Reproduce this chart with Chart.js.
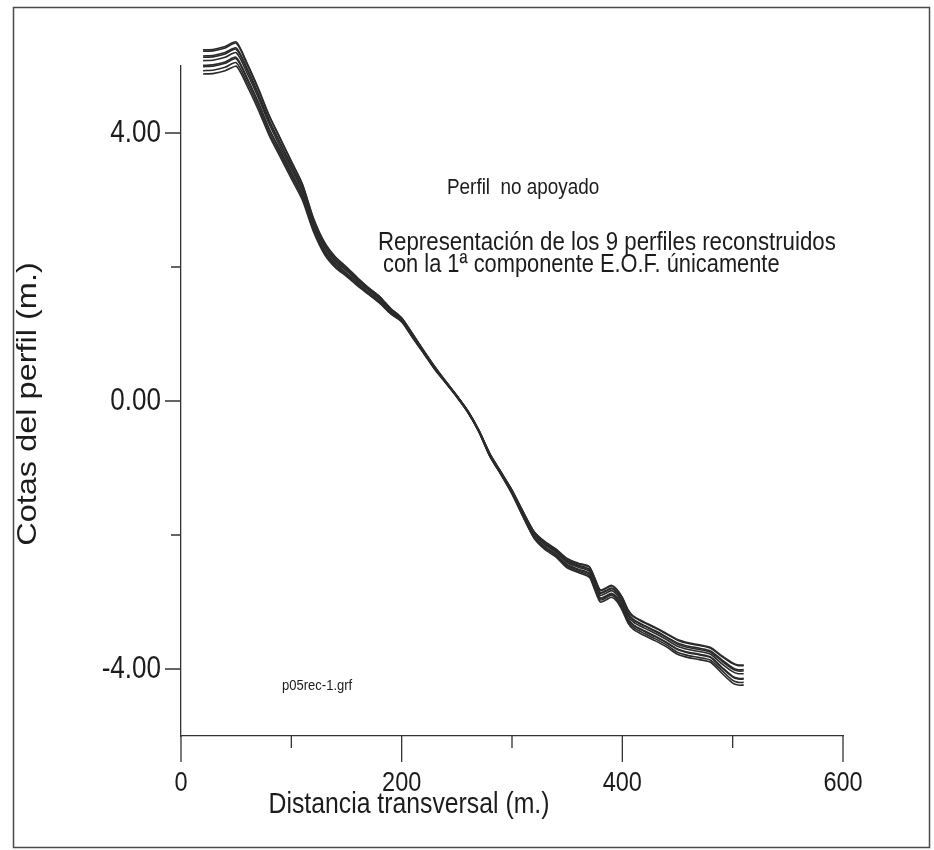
<!DOCTYPE html>
<html>
<head>
<meta charset="utf-8">
<title>Perfil no apoyado</title>
<script src="https://cdn.jsdelivr.net/npm/chart.js@4.4.1/dist/chart.umd.min.js"></script>
<style>
  html, body { margin: 0; padding: 0; background: #fff; }
  canvas { display: block; }
</style>
</head>
<body>
<canvas id="perfilChart" width="934" height="850"></canvas>
<script>
// Distancia transversal (m.) comun a los 9 perfiles
const distancias = [20,30,40,50,60,70,80,90,100,110,120,130,140,150,160,170,180,190,200,210,220,230,240,250,260,270,280,290,300,310,320,330,340,350,360,370,375,380,385,390,395,400,405,410,420,430,440,450,460,470,480,490,500,505,510];

// Cotas (m.) de los perfiles reconstruidos
const perfil1 = [5.24,5.25,5.29,5.36,5.04,4.67,4.26,3.92,3.58,3.24,2.73,2.37,2.15,2.00,1.84,1.69,1.56,1.38,1.24,1.00,0.75,0.51,0.29,0.08,-0.15,-0.44,-0.79,-1.06,-1.33,-1.65,-1.95,-2.10,-2.21,-2.35,-2.42,-2.47,-2.64,-2.82,-2.79,-2.75,-2.81,-2.93,-3.11,-3.21,-3.30,-3.38,-3.47,-3.56,-3.61,-3.64,-3.68,-3.80,-3.91,-3.94,-3.94];
const perfil2 = [5.22,5.23,5.27,5.34,5.02,4.65,4.25,3.91,3.57,3.23,2.72,2.36,2.14,1.99,1.83,1.69,1.56,1.38,1.24,1.00,0.75,0.51,0.29,0.08,-0.15,-0.44,-0.79,-1.06,-1.33,-1.65,-1.95,-2.11,-2.22,-2.36,-2.43,-2.48,-2.65,-2.83,-2.80,-2.76,-2.82,-2.94,-3.12,-3.22,-3.31,-3.39,-3.48,-3.57,-3.62,-3.65,-3.69,-3.81,-3.92,-3.95,-3.95];
const perfil3 = [5.15,5.16,5.20,5.27,4.96,4.59,4.19,3.85,3.52,3.18,2.68,2.33,2.11,1.97,1.81,1.67,1.54,1.36,1.23,0.99,0.74,0.50,0.29,0.08,-0.15,-0.44,-0.80,-1.07,-1.34,-1.67,-1.97,-2.13,-2.24,-2.38,-2.45,-2.51,-2.68,-2.86,-2.83,-2.79,-2.85,-2.98,-3.16,-3.26,-3.35,-3.43,-3.52,-3.61,-3.66,-3.69,-3.73,-3.86,-3.98,-4.01,-4.01];
const perfil4 = [5.13,5.14,5.18,5.25,4.94,4.57,4.17,3.84,3.50,3.17,2.67,2.32,2.10,1.96,1.80,1.66,1.53,1.36,1.22,0.98,0.74,0.50,0.28,0.07,-0.16,-0.45,-0.80,-1.07,-1.35,-1.67,-1.98,-2.14,-2.25,-2.39,-2.46,-2.52,-2.69,-2.87,-2.84,-2.80,-2.86,-2.99,-3.17,-3.27,-3.36,-3.44,-3.53,-3.63,-3.68,-3.71,-3.75,-3.88,-4.00,-4.03,-4.03];
const perfil5 = [5.08,5.09,5.13,5.20,4.89,4.53,4.13,3.79,3.46,3.13,2.64,2.29,2.08,1.94,1.79,1.65,1.52,1.34,1.21,0.97,0.73,0.49,0.28,0.07,-0.16,-0.45,-0.81,-1.08,-1.36,-1.69,-1.99,-2.15,-2.26,-2.41,-2.48,-2.54,-2.72,-2.90,-2.87,-2.83,-2.89,-3.02,-3.20,-3.30,-3.39,-3.47,-3.56,-3.66,-3.71,-3.74,-3.78,-3.92,-4.04,-4.07,-4.07];
const perfil6 = [5.01,5.02,5.06,5.13,4.82,4.46,4.06,3.74,3.41,3.08,2.60,2.25,2.05,1.91,1.76,1.62,1.49,1.33,1.20,0.96,0.72,0.48,0.28,0.07,-0.16,-0.45,-0.82,-1.09,-1.37,-1.70,-2.02,-2.18,-2.29,-2.44,-2.51,-2.57,-2.76,-2.94,-2.91,-2.87,-2.93,-3.06,-3.24,-3.34,-3.43,-3.51,-3.60,-3.70,-3.75,-3.78,-3.82,-3.97,-4.11,-4.14,-4.14];
const perfil7 = [4.99,5.00,5.04,5.11,4.80,4.45,4.05,3.72,3.40,3.07,2.59,2.24,2.04,1.90,1.76,1.62,1.49,1.32,1.20,0.96,0.72,0.48,0.28,0.07,-0.16,-0.45,-0.82,-1.09,-1.37,-1.71,-2.02,-2.18,-2.29,-2.45,-2.52,-2.58,-2.77,-2.95,-2.92,-2.88,-2.94,-3.07,-3.25,-3.35,-3.44,-3.52,-3.61,-3.71,-3.76,-3.79,-3.83,-3.98,-4.12,-4.15,-4.15];
const perfil8 = [4.93,4.94,4.98,5.05,4.75,4.40,4.00,3.68,3.36,3.04,2.56,2.22,2.01,1.88,1.74,1.60,1.47,1.31,1.19,0.95,0.72,0.48,0.27,0.06,-0.17,-0.46,-0.82,-1.09,-1.38,-1.72,-2.04,-2.20,-2.31,-2.47,-2.54,-2.61,-2.79,-2.97,-2.94,-2.90,-2.96,-3.10,-3.28,-3.38,-3.47,-3.55,-3.64,-3.75,-3.80,-3.83,-3.87,-4.02,-4.17,-4.20,-4.20];
const perfil9 = [4.88,4.89,4.93,5.00,4.70,4.35,3.96,3.64,3.32,3.00,2.53,2.19,1.99,1.86,1.72,1.59,1.46,1.30,1.18,0.94,0.71,0.47,0.27,0.06,-0.17,-0.46,-0.83,-1.10,-1.39,-1.73,-2.05,-2.22,-2.33,-2.49,-2.56,-2.63,-2.82,-3.00,-2.97,-2.93,-2.99,-3.13,-3.31,-3.41,-3.50,-3.58,-3.67,-3.78,-3.83,-3.86,-3.90,-4.06,-4.21,-4.24,-4.24];

// Marcas de los ejes
const ticksX = [0, 200, 400, 600];
const etiquetasX = ['0', '200', '400', '600'];
const ticksXMenores = [100, 300, 500];
const ticksY = [4, 0, -4];
const etiquetasY = ['4.00', '0.00', '-4.00'];
const ticksYMenores = [2, -2];

const perfiles = [perfil1, perfil2, perfil3, perfil4, perfil5, perfil6, perfil7, perfil8, perfil9];

const FUENTE = '"Liberation Sans", Arial, Helvetica, sans-serif';
const COLOR_TEXTO = '#1c1c1c';
const COMPRESION = 0.84; // el escaneo original esta algo comprimido en horizontal

function texto(ctx, str, x, y, size, align) {
    ctx.save();
    ctx.font = size + 'px ' + FUENTE;
    ctx.fillStyle = COLOR_TEXTO;
    ctx.textAlign = align;
    ctx.textBaseline = 'middle';
    ctx.translate(x, y);
    ctx.scale(COMPRESION, 1);
    ctx.fillText(str, 0, 0);
    ctx.restore();
}

// Fondo blanco y marco de la hoja
const marcoPlugin = {
    id: 'marco',
    beforeDraw(chart) {
        const ctx = chart.ctx;
        ctx.save();
        ctx.fillStyle = '#fff';
        ctx.fillRect(0, 0, chart.width, chart.height);
        ctx.strokeStyle = '#4a4a4a';
        ctx.lineWidth = 1.5;
        ctx.strokeRect(13.5, 7.5, 916, 840);
        ctx.restore();
    }
};

// Marcas, etiquetas, titulos y rotulos
const rotulosPlugin = {
    id: 'rotulos',
    afterDraw(chart) {
        const ctx = chart.ctx;
        const sx = chart.scales.x;
        const sy = chart.scales.y;
        const x0 = chart.chartArea.left;
        const y0 = chart.chartArea.bottom;

        ctx.save();
        ctx.strokeStyle = '#333';
        ctx.lineWidth = 1.3;
        ctx.beginPath();
        ticksX.forEach(v => { const p = sx.getPixelForValue(v); ctx.moveTo(p, y0); ctx.lineTo(p, y0 + 26); });
        ticksXMenores.forEach(v => { const p = sx.getPixelForValue(v); ctx.moveTo(p, y0); ctx.lineTo(p, y0 + 12); });
        ticksY.forEach(v => { const p = sy.getPixelForValue(v); ctx.moveTo(x0 - 16, p); ctx.lineTo(x0, p); });
        ticksYMenores.forEach(v => { const p = sy.getPixelForValue(v); ctx.moveTo(x0 - 10, p); ctx.lineTo(x0, p); });
        ctx.stroke();
        ctx.restore();

        ticksX.forEach((v, i) => texto(ctx, etiquetasX[i], sx.getPixelForValue(v), 783, 28, 'center'));
        ticksY.forEach((v, i) => texto(ctx, etiquetasY[i], x0 - 20, sy.getPixelForValue(v), 31, 'right'));

        texto(ctx, 'Distancia transversal (m.)', 409, 805, 29.5, 'center');

        ctx.save();
        ctx.translate(28, 404);
        ctx.rotate(-Math.PI / 2);
        ctx.scale(1, COMPRESION);
        ctx.font = '32.5px ' + FUENTE;
        ctx.fillStyle = COLOR_TEXTO;
        ctx.textAlign = 'center';
        ctx.textBaseline = 'middle';
        ctx.fillText('Cotas del perfil (m.)', 0, 0);
        ctx.restore();

        texto(ctx, 'Perfil  no apoyado', 447, 188, 22.5, 'left');
        texto(ctx, 'Representación de los 9 perfiles reconstruidos', 378, 243, 26.5, 'left');
        texto(ctx, 'con la 1ª componente E.O.F. únicamente', 383, 265, 26, 'left');
        texto(ctx, 'p05rec-1.grf', 282, 686, 15.5, 'left');
    }
};

const datasets = perfiles.map((p, k) => ({
    label: 'Perfil ' + (k + 1),
    data: distancias.map((d, i) => ({ x: d, y: p[i] })),
    borderColor: '#2b2b2b',
    borderWidth: 1.6,
    pointRadius: 0,
    tension: 0.25,
    fill: false,
    clip: false
}));

new Chart(document.getElementById('perfilChart'), {
    type: 'line',
    data: { datasets: datasets },
    options: {
        responsive: false,
        animation: false,
        devicePixelRatio: 1,
        layout: { padding: { left: 181, right: 91, top: 66, bottom: 114 } },
        scales: {
            x: {
                type: 'linear',
                min: 0,
                max: 600,
                grid: { display: false, drawTicks: false },
                ticks: { display: false },
                border: { display: true, color: '#333', width: 1.3 }
            },
            y: {
                type: 'linear',
                min: -5,
                max: 5,
                grid: { display: false, drawTicks: false },
                ticks: { display: false },
                border: { display: true, color: '#333', width: 1.3 }
            }
        },
        plugins: {
            legend: { display: false },
            tooltip: { enabled: false }
        }
    },
    plugins: [marcoPlugin, rotulosPlugin]
});
</script>
</body>
</html>
